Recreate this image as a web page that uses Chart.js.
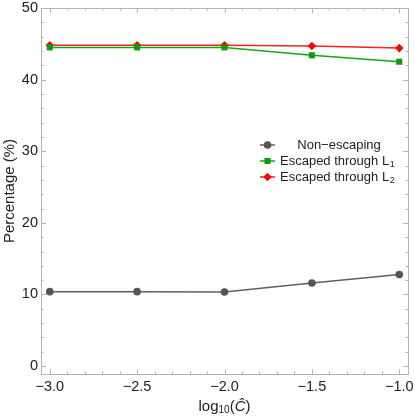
<!DOCTYPE html>
<html>
<head>
<meta charset="utf-8">
<script src="https://cdn.jsdelivr.net/npm/chart.js@4"></script>
<style>
  html, body { margin: 0; padding: 0; background: #fff; }
  #wrap { width: 415px; height: 420px; }
</style>
</head>
<body>
<div id="wrap"><canvas id="grafico" width="415" height="420"></canvas></div>
<script>
// datos
const logC = [-3.0, -2.5, -2.0, -1.5, -1.0];
const noEscapa = [10.4, 10.4, 10.35, 11.6, 12.8];
const escapaL1 = [44.5, 44.5, 44.5, 43.4, 42.5];
const escapaL2 = [44.8, 44.8, 44.8, 44.7, 44.4];

const xTicks = [-3.0, -2.5, -2.0, -1.5, -1.0];
const yTicks = [0, 10, 20, 30, 40, 50];

const etiquetas = ["Non\u2212escaping", "Escaped through L", "Escaped through L"];
const subindices = ["", "1", "2"];

const fuente = "'Liberation Sans', Arial, sans-serif";
const colorMarco = "#b4b4b4";

function puntos(ys) {
  return logC.map((x, i) => ({ x: x, y: ys[i] }));
}

// marco y ticks hacia adentro en los cuatro lados (estilo Mathematica)
const ticksMarco = {
  id: "ticksMarco",
  afterDraw(chart) {
    const ctx = chart.ctx;
    const a = chart.chartArea;
    const sx = chart.scales.x;
    const sy = chart.scales.y;
    ctx.save();
    ctx.strokeStyle = colorMarco;
    ctx.lineWidth = 1;
    ctx.strokeRect(Math.round(a.left) + 0.5, Math.round(a.top) + 0.5,
      Math.round(a.right - a.left), Math.round(a.bottom - a.top));
    ctx.beginPath();
    for (let v = -3.0; v <= -0.999; v += 0.1) {
      const major = Math.abs(v * 2 - Math.round(v * 2)) < 1e-6;
      const len = major ? 5 : 2.5;
      const px = Math.round(sx.getPixelForValue(v)) + 0.5;
      ctx.moveTo(px, a.bottom);
      ctx.lineTo(px, a.bottom - len);
      ctx.moveTo(px, a.top);
      ctx.lineTo(px, a.top + len);
    }
    for (let v = 0; v <= 50; v += 2) {
      const major = v % 10 === 0;
      const len = major ? 5 : 2.5;
      const py = Math.round(sy.getPixelForValue(v)) + 0.5;
      ctx.moveTo(a.left, py);
      ctx.lineTo(a.left + len, py);
      ctx.moveTo(a.right, py);
      ctx.lineTo(a.right - len, py);
    }
    ctx.stroke();
    ctx.restore();
  },
};

// leyenda y titulo del eje x con subindices
const textos = {
  id: "textos",
  afterDraw(chart) {
    const ctx = chart.ctx;
    ctx.save();
    ctx.textBaseline = "middle";
    const filas = [145, 161, 177];
    chart.data.datasets.forEach((ds, i) => {
      const y = filas[i];
      ctx.strokeStyle = ds.borderColor;
      ctx.lineWidth = 1.5;
      ctx.beginPath();
      ctx.moveTo(260, y);
      ctx.lineTo(275, y);
      ctx.stroke();
      ctx.fillStyle = ds.pointBackgroundColor;
      ctx.strokeStyle = ds.pointBackgroundColor;
      Chart.helpers.drawPoint(ctx, {
        pointStyle: ds.pointStyle,
        radius: ds.pointRadius,
        borderWidth: 0,
      }, 267.5, y);
      ctx.fillStyle = "#222";
      ctx.font = "13px " + fuente;
      if (subindices[i] === "") {
        ctx.textAlign = "center";
        ctx.fillText(etiquetas[i], 339, y);
      } else {
        ctx.textAlign = "left";
        ctx.fillText(etiquetas[i], 280, y);
        const w = ctx.measureText(etiquetas[i]).width;
        ctx.font = "9px " + fuente;
        ctx.fillText(subindices[i], 280 + w + 0.5, y + 4);
      }
    });

    // titulo eje x: log10(C^)
    const cx = (chart.chartArea.left + chart.chartArea.right) / 2;
    const ty = 407;
    const partes = [
      { t: "log", f: "15px " + fuente, dy: 0 },
      { t: "10", f: "10px " + fuente, dy: 3 },
      { t: "(", f: "15px " + fuente, dy: 0 },
      { t: "\u0108", f: "italic 15px " + fuente, dy: 0 },
      { t: ")", f: "15px " + fuente, dy: 0 },
    ];
    let total = 0;
    partes.forEach((p) => {
      ctx.font = p.f;
      p.w = ctx.measureText(p.t).width;
      total += p.w;
    });
    let x = cx - total / 2;
    ctx.textAlign = "left";
    ctx.fillStyle = "#222";
    partes.forEach((p) => {
      ctx.font = p.f;
      ctx.fillText(p.t, x, ty + p.dy);
      x += p.w;
    });
    ctx.restore();
  },
};

document.addEventListener("DOMContentLoaded", function () {
  const ctx = document.getElementById("grafico").getContext("2d");

  new Chart(ctx, {
    type: "line",
    data: {
      datasets: [
        {
          label: etiquetas[0],
          data: puntos(noEscapa),
          borderColor: "#5f5f5f",
          backgroundColor: "#555555",
          pointBackgroundColor: "#555555",
          pointBorderWidth: 0,
          pointStyle: "circle",
          pointRadius: 3.8,
          borderWidth: 1.5,
        },
        {
          label: etiquetas[1] + "1",
          data: puntos(escapaL1),
          borderColor: "#13a813",
          backgroundColor: "#0a9e0a",
          pointBackgroundColor: "#0a9e0a",
          pointBorderWidth: 0,
          pointStyle: "rect",
          pointRadius: 4.3,
          borderWidth: 1.5,
        },
        {
          label: etiquetas[2] + "2",
          data: puntos(escapaL2),
          borderColor: "#ff2020",
          backgroundColor: "#ff0000",
          pointBackgroundColor: "#ff0000",
          pointBorderWidth: 0,
          pointStyle: "rectRot",
          pointRadius: 4.3,
          borderWidth: 1.5,
        },
      ],
    },
    options: {
      responsive: false,
      animation: false,
      layout: { padding: { top: 8, right: 7, left: 0, bottom: 0 } },
      plugins: {
        legend: { display: false },
        tooltip: { enabled: false },
      },
      scales: {
        x: {
          type: "linear",
          min: -3.05,
          max: -0.95,
          afterBuildTicks: (s) => {
            s.ticks = xTicks.map((v) => ({ value: v }));
          },
          afterFit: (s) => {
            s.height = 46;
            s.paddingLeft = 0;
            s.paddingRight = 0;
          },
          grid: { display: false, tickLength: 0 },
          border: { display: false },
          ticks: {
            color: "#222",
            font: { family: fuente, size: 14.5 },
            padding: 4,
            maxRotation: 0,
            callback: (v) => v.toFixed(1).replace("-", "\u2212"),
          },
        },
        y: {
          min: -1.1,
          max: 50,
          afterBuildTicks: (s) => {
            s.ticks = yTicks.map((v) => ({ value: v }));
          },
          afterFit: (s) => {
            s.width = 41;
            s.paddingTop = 0;
            s.paddingBottom = 0;
          },
          grid: { display: false, tickLength: 0 },
          border: { display: false },
          title: {
            display: true,
            text: "Percentage (%)",
            color: "#222",
            font: { family: fuente, size: 15 },
            padding: { top: 1, bottom: 0 },
          },
          ticks: {
            color: "#222",
            font: { family: fuente, size: 14.5 },
            padding: 3,
          },
        },
      },
    },
    plugins: [ticksMarco, textos],
  });
});
</script>
</body>
</html>
